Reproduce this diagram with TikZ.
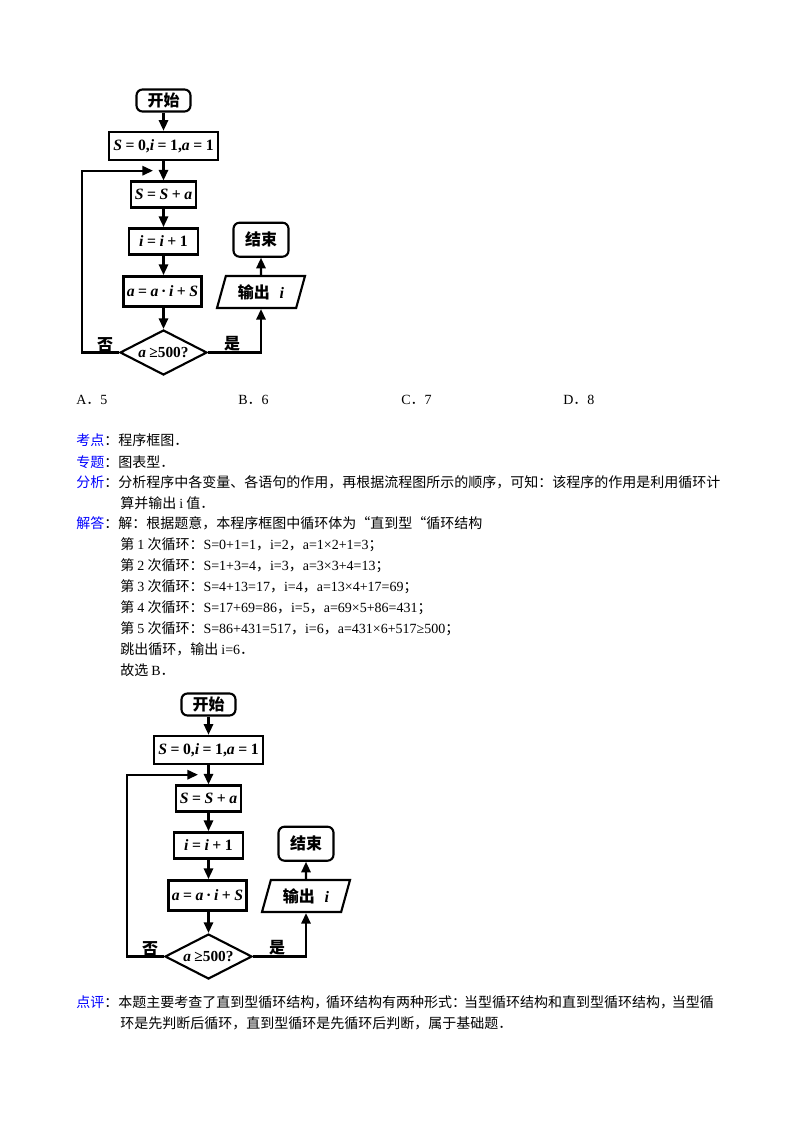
\documentclass[tikz,border=0pt]{standalone}
\usepackage{fontspec}
\setmainfont{Noto Sans CJK SC}
\newfontfamily\enfont{Liberation Serif}
\usetikzlibrary{shapes.geometric,arrows.meta}

\newcommand\en[1]{{\enfont #1}}
\newcommand\mv[1]{\textit{#1}}
\newcommand\cp[1]{\makebox[0.85em][l]{#1}}
\definecolor{lblue}{RGB}{0,0,255}

\tikzset{
  proc/.style={draw, line width=1.9pt, inner sep=0pt, font=\enfont\bfseries\fontsize{11.8}{13}\selectfont},
  term/.style={draw, rounded corners=4.5pt, line width=1.6pt, inner sep=0pt, font=\bfseries\fontsize{12}{14}\selectfont},
  test/.style={diamond, draw, line width=1.6pt, inner sep=0pt, aspect=2, font=\enfont\bfseries\fontsize{11.5}{13}\selectfont},
  io/.style={trapezium, trapezium left angle=60, trapezium right angle=120, trapezium stretches body,
    draw, line width=1.6pt, inner sep=0pt, font=\bfseries\fontsize{12}{14}\selectfont},
  flow/.style={line width=1.6pt, -{Triangle[length=8pt,width=7pt]}},
  body/.style={anchor=base west, inner sep=0pt, font=\fontsize{10.5}{13}\selectfont},
}

\begin{document}
\begin{tikzpicture}[x=0.75pt,y=-0.75pt]
\fill[white] (0,0) rectangle (794,1123);
\useasboundingbox (0,0) rectangle (794,1123);

% the same chart twice: in the question and in the answer
\foreach \dx/\dy/\pfx in {0/0/a,45/604/b}{
\begin{scope}[shift={(\dx,\dy)}, name prefix=\pfx-]
  \node[term, minimum width=40.5pt, minimum height=16.5pt] (start) at (163.5,100.5) {开始};
  \node[proc, minimum width=81.75pt, minimum height=21pt] (init) at (163.5,146) {\mv{S}\:=\:0,\mv{i}\:=\:1,\mv{a}\:=\:1};
  \node[proc, minimum width=48.75pt, minimum height=19.5pt] (sum) at (163.5,194.7) {\mv{S}\:=\:\mv{S}\:+\:\mv{a}};
  \node[proc, minimum width=51.75pt, minimum height=19.5pt] (inc) at (163.5,241.3) {\mv{i}\:=\:\mv{i}\:+\:1};
  \node[proc, minimum width=58.5pt, minimum height=22.5pt] (upd) at (162.5,291.3) {\mv{a}\:=\:\mv{a}\,·\,\mv{i}\:+\:\mv{S}};
  \node[test, minimum width=65.25pt, minimum height=33.75pt] (cond) at (163.5,352.5) {\mv{a}\:≥500?};
  \node[io, minimum width=66pt, minimum height=24pt] (out) at (261,292) {输出\hspace{0.6em}\en{\bfseries\itshape i}};
  \node[term, minimum width=41.25pt, minimum height=25.5pt] (end) at (261,239.7) {结束};
  \node[font=\bfseries\fontsize{12}{14}\selectfont] (no) at (105,345) {否};
  \node[font=\bfseries\fontsize{12}{14}\selectfont] (yes) at (232,344) {是};
  \coordinate (back) at (82,170.7);
  \coordinate (join) at (153,170.7);

  \draw[flow] (start) -- (init);
  \draw[flow] (init) -- (sum);
  \draw[flow] (sum) -- (inc);
  \draw[flow] (inc) -- (upd.north -| inc.south);
  \draw[flow] (upd.south -| inc.south) -- (cond);
  \draw[flow] (cond.west) -| (back) -- (join);
  \draw[flow] (cond.east) -| (out.south);
  \draw[flow] (out) -- (end);
\end{scope}
}

% choices
\node[body] (optA) at (76,404) {\en{A}．\en{5}};
\node[body] (optB) at (238,404) {\en{B}．\en{6}};
\node[body] (optC) at (401,404) {\en{C}．\en{7}};
\node[body] (optD) at (563,404) {\en{D}．\en{8}};

% analysis
\node[body] (kaodian) at (76,445.4) {\textcolor{lblue}{考点}：程序框图．};
\node[body] (zhuanti) at (76,467.4) {\textcolor{lblue}{专题}：图表型．};
\node[body] (fenxi) at (76,487.4) {\textcolor{lblue}{分析}：分析程序中各变量、各语句的作用，再根据流程图所示的顺序，可知：该程序的作用是利用循环计};
\node[body] (fenxi2) at (120,508.4) {算并输出 \en{i} 值．};
\node[body] (jieda) at (76,528.4) {\textcolor{lblue}{解答}：解：根据题意，本程序框图中循环体为“直到型“循环结构};
\node[body] (step1) at (120,549.4) {第 \en{1} 次循环：\en{S=0+1=1}，\en{i=2}，\en{a=1×2+1=3}；};
\node[body] (step2) at (120,570.4) {第 \en{2} 次循环：\en{S=1+3=4}，\en{i=3}，\en{a=3×3+4=13}；};
\node[body] (step3) at (120,591.4) {第 \en{3} 次循环：\en{S=4+13=17}，\en{i=4}，\en{a=13×4+17=69}；};
\node[body] (step4) at (120,612.4) {第 \en{4} 次循环：\en{S=17+69=86}，\en{i=5}，\en{a=69×5+86=431}；};
\node[body] (step5) at (120,633.4) {第 \en{5} 次循环：\en{S=86+431=517}，\en{i=6}，\en{a=431×6+517≥500}；};
\node[body] (jump) at (120,654.4) {跳出循环，输出 \en{i=6}．};
\node[body] (pick) at (120,675.4) {故选 \en{B}．};
\node[body] (dianping) at (76,1007.4) {\textcolor{lblue}{点评}：本题主要考查了直到型循环结构\cp{，}循环结构有两种形式\cp{：}当型循环结构和直到型循环结构\cp{，}当型循};
\node[body] (dianping2) at (120,1028.4) {环是先判断后循环，直到型循环是先循环后判断，属于基础题．};
\end{tikzpicture}
\end{document}
